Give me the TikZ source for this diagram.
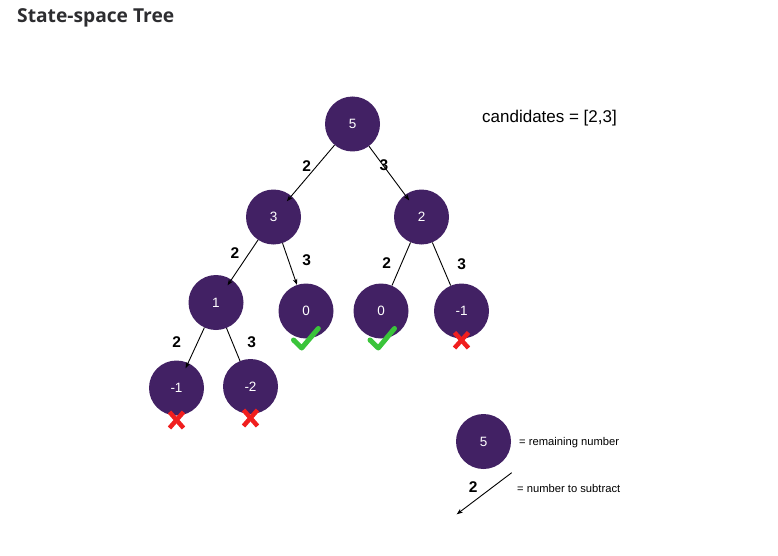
\documentclass[tikz,border=0pt]{standalone}
\usepackage{fontspec}
\setmainfont{Liberation Sans}
\newfontfamily\titlefont{Open Sans}
\usetikzlibrary{arrows.meta}
\definecolor{nodepurple}{RGB}{66,33,100}
\definecolor{okgreen}{RGB}{58,196,58}
\definecolor{badred}{RGB}{240,30,30}
\definecolor{titlegray}{RGB}{45,45,48}
\begin{document}
\begin{tikzpicture}[x=1pt,y=-1pt,
  state/.style={circle,fill=nodepurple,draw=none,minimum size=55pt,inner sep=0pt,text=white,font=\fontsize{13.5}{13.5}\selectfont},
  edge/.style={draw=black,line width=0.9pt},
  arr/.style={edge,-{Stealth[length=6pt,width=4.5pt]}},
  elabel/.style={font=\bfseries\fontsize{15.5}{15.5}\selectfont,inner sep=0pt},
  check/.style={draw=okgreen,line width=5pt,line cap=round,line join=round},
  cross/.style={draw=badred,line width=4.5pt},
  legtext/.style={font=\fontsize{11.2}{11.2}\selectfont,anchor=west,inner sep=0pt}]
\useasboundingbox[fill=white] (0,0) rectangle (778,556);

\node[anchor=base west,inner sep=0pt,text=titlegray,font=\titlefont\bfseries\fontsize{19.2}{19.2}\selectfont] (title) at (17,23) {State-space Tree};
\node[inner sep=0pt,font=\fontsize{17}{17}\selectfont] (cand) at (549.5,118) {candidates = [2,3]};

\node[state] (n5) at (352.5,124) {5};
\node[state] (n3) at (273.5,217) {3};
\node[state] (n2) at (421.5,217) {2};
\node[state] (n1) at (216,302.5) {1};
\node[state] (z1) at (306,311) {0};
\node[state] (z2) at (381,311) {0};
\node[state] (m1) at (461.5,311) {-1};
\node[state] (a) at (176.5,388) {-1};
\node[state] (b) at (250.5,386.5) {-2};

\draw[arr,shorten >=-7pt] (n5) -- (n3);
\draw[arr,shorten >=-7pt] (n5) -- (n2);
\draw[arr,shorten >=-7pt] (n3) -- (n1);
\draw[arr] (n3) -- (z1);
\draw[edge] (n2) -- (z2);
\draw[edge] (n2) -- (m1);
\draw[arr,shorten >=-6pt] (n1) -- (a);
\draw[edge] (n1) -- (b);

\node[elabel] (l1) at (306.7,166) {2};
\node[elabel] (l2) at (384,165) {3};
\node[elabel] (l3) at (235,252.7) {2};
\node[elabel] (l4) at (306.7,260) {3};
\node[elabel] (l5) at (386.7,262.7) {2};
\node[elabel] (l6) at (461.7,264) {3};
\node[elabel] (l7) at (176.7,341.7) {2};
\node[elabel] (l8) at (251.7,341.7) {3};

\begin{scope}[shift={(z1.center)}]
  \draw[check] (-12.5,29) -- (-4.3,37) -- (12.3,17.5);
\end{scope}
\begin{scope}[shift={(z2.center)}]
  \draw[check] (-11,29) -- (-2.7,37) -- (13.5,17.5);
\end{scope}
\begin{scope}[shift={(m1.center)}]
  \draw[cross] (-7,21.5) -- (7,37);
  \draw[cross] (7,21.5) -- (-7,37);
\end{scope}
\begin{scope}[shift={(a.center)}]
  \draw[cross] (-7,24) -- (7,40);
  \draw[cross] (7,24) -- (-7,40);
\end{scope}
\begin{scope}[shift={(b.center)}]
  \draw[cross] (-7,23.5) -- (7,39.5);
  \draw[cross] (7,23.5) -- (-7,39.5);
\end{scope}

\node[state] (leg) at (483.5,441.5) {5};
\node[legtext] (legt1) at (519,442.5) {= remaining number};
\coordinate (las) at (511.7,472.7);
\coordinate (lae) at (456.7,514.3);
\draw[arr] (las) -- (lae);
\node[elabel] (legl) at (473.3,486.7) {2};
\node[legtext] (legt2) at (517,488) {= number to subtract};
\end{tikzpicture}
\end{document}
